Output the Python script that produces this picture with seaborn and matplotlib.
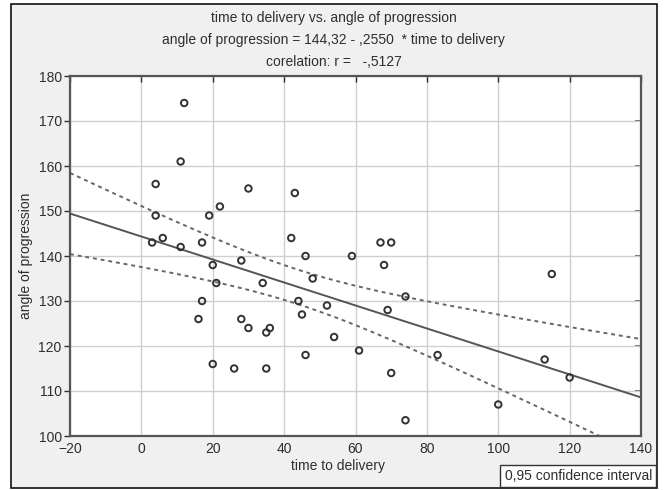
import numpy as np
import pandas as pd
import seaborn as sns
import matplotlib.pyplot as plt
from matplotlib.patches import Rectangle

# Data

time_to_delivery = [4, 30, 4, 22, 19, 3, 6, 11, 17, 20, 28, 21, 34, 17, 44, 16,
                    28, 30, 36, 35, 20, 26, 35, 43, 42, 46, 59, 67, 70, 68, 48,
                    45, 52, 74, 69, 54, 61, 46, 70, 83, 74, 12, 11, 115, 113,
                    120, 100]
angle_of_progression = [156, 155, 149, 151, 149, 143, 144, 142, 143, 138, 139,
                        134, 134, 130, 130, 126, 126, 124, 124, 123, 116, 115,
                        115, 154, 144, 140, 140, 143, 143, 138, 135, 127, 129,
                        131, 128, 122, 119, 118, 114, 118, 103.5, 174, 161, 136,
                        117, 113, 107]

title_lines = ["time to delivery vs. angle of progression",
               "angle of progression = 144,32 - ,2550  * time to delivery",
               "corelation: r =   -,5127"]
x_ticks = [-20, 0, 20, 40, 60, 80, 100, 120, 140]
y_ticks = [100, 110, 120, 130, 140, 150, 160, 170, 180]

df = pd.DataFrame({"time to delivery": time_to_delivery,
                   "angle of progression": angle_of_progression})

# Linear fit + 95% confidence band for the mean

x = np.array(time_to_delivery, dtype=float)
y = np.array(angle_of_progression, dtype=float)
n = len(x)
slope, intercept = np.polyfit(x, y, 1)
resid = y - (intercept + slope * x)
s = np.sqrt(np.sum(resid ** 2) / (n - 2))
t_crit = 2.014  # t(0.975, 45)
xs = np.linspace(-20, 140, 200)
fit = intercept + slope * xs
half = t_crit * s * np.sqrt(1 / n + (xs - x.mean()) ** 2 / np.sum((x - x.mean()) ** 2))
print("fit:", intercept, slope, "r =", np.corrcoef(x, y)[0, 1])

line_df = pd.DataFrame({"x": xs, "fit": fit, "lo": fit - half, "hi": fit + half})

# Plot

sns.set_theme(style="white")
plt.rcParams["font.family"] = ["Liberation Sans Narrow", "Liberation Sans", "DejaVu Sans"]

fig = plt.figure(figsize=(6.67, 4.9), dpi=100, facecolor="white")
fig.patches.append(Rectangle((11 / 667, 2 / 490), 646 / 667, 484 / 490,
                             transform=fig.transFigure, facecolor="#f0f0f0",
                             edgecolor="#111111", linewidth=1.2, zorder=-10))
ax = fig.add_axes([70 / 667, 54 / 490, 571 / 667, 360 / 490])
ax.set_facecolor("white")

text_col = "#2e2e2e"

sns.lineplot(data=line_df, x="x", y="fit", ax=ax, color="#555555", linewidth=1.4)
sns.lineplot(data=line_df, x="x", y="lo", ax=ax, color="#666666", linewidth=1.4,
             linestyle=(0, (2, 2)))
sns.lineplot(data=line_df, x="x", y="hi", ax=ax, color="#666666", linewidth=1.4,
             linestyle=(0, (2, 2)))
sns.scatterplot(data=df, x="time to delivery", y="angle of progression", ax=ax,
                marker="o", s=22, facecolor="none", edgecolor="#333333",
                linewidth=1.4, zorder=5)

ax.set_xlim(-20, 140)
ax.set_ylim(100, 180)
ax.set_xticks(x_ticks)
ax.set_yticks(y_ticks)
ax.grid(True, color="#cfcfcf", linewidth=1.0)
ax.set_axisbelow(True)
for side in ax.spines.values():
    side.set_color("#555555")
    side.set_linewidth(1.6)
ax.tick_params(axis="both", labelsize=10, colors=text_col, length=4, width=1)
ax.tick_params(axis="x", direction="in", top=True, pad=4)
ax.tick_params(axis="y", direction="out", left=True, right=False, pad=2)
ax2 = ax.secondary_yaxis("right")
ax2.set_yticks(y_ticks)
ax2.tick_params(direction="in", length=4, labelright=False, color="#555555")
ax2.spines["right"].set_visible(False)

ax.set_xlabel("time to delivery", fontsize=10, color=text_col)
ax.xaxis.set_label_coords(0.47, -0.065)
ax.set_ylabel("angle of progression", fontsize=10, color=text_col)
ax.yaxis.set_label_coords(-0.065, 0.5)

for i, line in enumerate(title_lines):
    fig.text(0.5, 1 - (18 + 22 * i) / 490, line, ha="center", va="center",
             fontsize=10, color=text_col)

fig.text(652 / 667, 14 / 490, "0,95 confidence interval", ha="right",
         va="center", fontsize=10, color=text_col,
         bbox=dict(boxstyle="square,pad=0.3", facecolor="white",
                   edgecolor="#333333", linewidth=1))

fig.savefig("out.png", dpi=100, facecolor=fig.get_facecolor())
